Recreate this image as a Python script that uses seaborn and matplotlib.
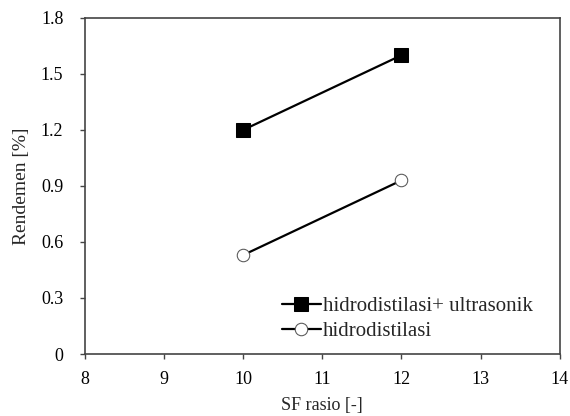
import matplotlib
matplotlib.use("Agg")
import matplotlib.pyplot as plt
import seaborn as sns
import pandas as pd

sf_ratio = [10, 12]
rend_ultrasonik = [1.20, 1.60]
rend_hidro = [0.53, 0.93]
series_names = ["hidrodistilasi+ ultrasonik", "hidrodistilasi"]
x_ticks = [8, 9, 10, 11, 12, 13, 14]
y_ticks = [0, 0.3, 0.6, 0.9, 1.2, 1.5, 1.8]
y_tick_labels = ["0", "0.3", "0.6", "0.9", "1.2", "1.5", "1.8"]

df = pd.DataFrame({
    "SF": sf_ratio + sf_ratio,
    "Rendemen": rend_ultrasonik + rend_hidro,
    "Metode": [series_names[0]] * 2 + [series_names[1]] * 2,
})

sns.set_style("ticks")
plt.rcParams["font.family"] = "serif"
plt.rcParams["font.serif"] = ["Liberation Serif", "DejaVu Serif"]

fig = plt.figure(figsize=(5.7, 4.16), dpi=100)
ax = fig.add_axes([0.149, 0.149, 0.833, 0.808])

sns.lineplot(data=df[df["Metode"] == series_names[0]], x="SF", y="Rendemen",
             color="black", marker="s", markersize=9.5, markerfacecolor="black",
             markeredgecolor="black", linewidth=1.6, label=series_names[0], ax=ax)
sns.lineplot(data=df[df["Metode"] == series_names[1]], x="SF", y="Rendemen",
             color="black", marker="o", markersize=9, markerfacecolor="white",
             markeredgecolor="#555555", linewidth=1.6, label=series_names[1], ax=ax)

ax.set_xlim(8, 14)
ax.set_ylim(0, 1.8)
ax.set_xticks(x_ticks)
ax.set_yticks(y_ticks)
ax.set_yticklabels(y_tick_labels)
ax.tick_params(axis="both", direction="out", length=3.5, width=1, labelsize=13,
               colors="#444444", labelcolor="black")
ax.tick_params(axis="y", pad=12)
ax.tick_params(axis="x", pad=9)
for s in ax.spines.values():
    s.set_visible(True)
    s.set_color("#444444")
    s.set_linewidth(1.2)

ax.set_xlabel("SF rasio [-]", fontsize=13, labelpad=6)
ax.set_ylabel("Rendemen [%]", fontsize=14, labelpad=8)

leg = ax.legend(loc="upper left", bbox_to_anchor=(0.415, 0.17), frameon=False,
                fontsize=15, handlelength=1.85, handletextpad=0.1,
                labelspacing=0.25, borderpad=0, borderaxespad=0)

fig.savefig("out.png", dpi=100)
